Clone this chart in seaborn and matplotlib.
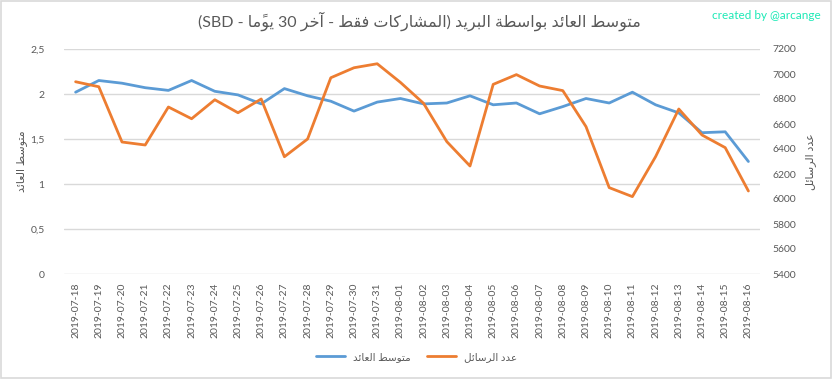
import numpy as np
import pandas as pd
import seaborn as sns
import matplotlib.pyplot as plt
from matplotlib.patches import Rectangle

sns.set_style('white')
plt.rcParams['font.family'] = ['Lato', 'DejaVu Sans']

# data
dates = ['2019-07-18', '2019-07-19', '2019-07-20', '2019-07-21', '2019-07-22',
         '2019-07-23', '2019-07-24', '2019-07-25', '2019-07-26', '2019-07-27',
         '2019-07-28', '2019-07-29', '2019-07-30', '2019-07-31', '2019-08-01',
         '2019-08-02', '2019-08-03', '2019-08-04', '2019-08-05', '2019-08-06',
         '2019-08-07', '2019-08-08', '2019-08-09', '2019-08-10', '2019-08-11',
         '2019-08-12', '2019-08-13', '2019-08-14', '2019-08-15', '2019-08-16']
avg_payout = [2.02, 2.15, 2.12, 2.07, 2.04, 2.15, 2.03, 1.99, 1.89, 2.06,
              1.98, 1.92, 1.81, 1.91, 1.95, 1.89, 1.90, 1.98, 1.88, 1.90,
              1.78, 1.86, 1.95, 1.90, 2.02, 1.88, 1.79, 1.57, 1.58, 1.25]
msg_count = [6938, 6898, 6456, 6432, 6736, 6642, 6794, 6690, 6800, 6338,
             6480, 6970, 7050, 7082, 6933, 6765, 6459, 6264, 6917, 6995,
             6904, 6867, 6579, 6091, 6019, 6339, 6720, 6512, 6411, 6064]
left_ticks = [0, 0.5, 1, 1.5, 2, 2.5]
left_labels = ['0', '0,5', '1', '1,5', '2', '2,5']
right_ticks = [5400, 5600, 5800, 6000, 6200, 6400, 6600, 6800, 7000, 7200]

title = 'متوسط العائد بواسطة البريد (المشاركات فقط - آخر 30 يومًا - SBD)'
left_name = 'متوسط العائد'
right_name = 'عدد الرسائل'

# matplotlib has no arabic shaping, so pick the presentation forms by hand
# (isolated, final, initial, medial); None = letter does not join to the next one
FORMS = {
    'ا': ('\uFE8D', '\uFE8E', None, None),
    'آ': ('\uFE81', '\uFE82', None, None),
    'ب': ('\uFE8F', '\uFE90', '\uFE91', '\uFE92'),
    'ة': ('\uFE93', '\uFE94', None, None),
    'ت': ('\uFE95', '\uFE96', '\uFE97', '\uFE98'),
    'خ': ('\uFEA5', '\uFEA6', '\uFEA7', '\uFEA8'),
    'د': ('\uFEA9', '\uFEAA', None, None),
    'ر': ('\uFEAD', '\uFEAE', None, None),
    'س': ('\uFEB1', '\uFEB2', '\uFEB3', '\uFEB4'),
    'ش': ('\uFEB5', '\uFEB6', '\uFEB7', '\uFEB8'),
    'ط': ('\uFEC1', '\uFEC2', '\uFEC3', '\uFEC4'),
    'ع': ('\uFEC9', '\uFECA', '\uFECB', '\uFECC'),
    'ف': ('\uFED1', '\uFED2', '\uFED3', '\uFED4'),
    'ق': ('\uFED5', '\uFED6', '\uFED7', '\uFED8'),
    'ك': ('\uFED9', '\uFEDA', '\uFEDB', '\uFEDC'),
    'ل': ('\uFEDD', '\uFEDE', '\uFEDF', '\uFEE0'),
    'م': ('\uFEE1', '\uFEE2', '\uFEE3', '\uFEE4'),
    'و': ('\uFEED', '\uFEEE', None, None),
    'ي': ('\uFEF1', '\uFEF2', '\uFEF3', '\uFEF4'),
    'ئ': ('\uFE89', '\uFE8A', '\uFE8B', '\uFE8C'),
}
MARKS = '\u064B'


def shape(word):
    letters = []
    for ch in word:
        if ch in MARKS and letters:
            letters[-1][1] += ch
        else:
            letters.append([ch, ''])
    out = []
    for i, (ch, mk) in enumerate(letters):
        f = FORMS[ch]
        prev_joins = i > 0 and FORMS[letters[i - 1][0]][2] is not None
        next_joins = f[2] is not None and i + 1 < len(letters)
        if prev_joins and next_joins:
            g = f[3]
        elif prev_joins:
            g = f[1]
        elif next_joins:
            g = f[2]
        else:
            g = f[0]
        out.append(g + mk)
    return ''.join(reversed(out))


def rtl(text):
    # crude bidi: reverse the runs, keep latin/digit runs as they are
    runs = []
    for ch in text:
        if ch in FORMS or ch in MARKS:
            kind = 'ar'
        elif ch.isascii() and ch.isalnum():
            kind = 'ltr'
        else:
            kind = 'n'
        if runs and runs[-1][0] == kind and kind != 'n':
            runs[-1][1] += ch
        else:
            runs.append([kind, ch])
    mirror = {'(': ')', ')': '('}
    parts = []
    for kind, s in reversed(runs):
        if kind == 'ar':
            parts.append(shape(s))
        elif kind == 'ltr':
            parts.append(s)
        else:
            parts.append(mirror.get(s, s))
    return ''.join(parts)


df = pd.DataFrame({'date': dates, 'avg': avg_payout, 'count': msg_count})

blue = '#5B9BD5'
orange = '#ED7D31'
gray = '#595959'

fig = plt.figure(figsize=(8.33, 3.79), dpi=100)
ax = fig.add_axes([64 / 833, 105 / 379, 696 / 833, 225 / 379])
ax2 = ax.twinx()

sns.lineplot(data=df, x='date', y='avg', ax=ax, color=blue, lw=2, sort=False)
sns.lineplot(data=df, x='date', y='count', ax=ax2, color=orange, lw=2, sort=False)

ax.set_xlim(-0.5, len(dates) - 0.5)
ax.set_ylim(0, 2.5)
ax2.set_ylim(5400, 7200)
ax.set_yticks(left_ticks, left_labels)
ax2.set_yticks(right_ticks)
ax.grid(axis='y', color='#D9D9D9', lw=1)
ax.set_axisbelow(True)
for a in (ax, ax2):
    for s in a.spines.values():
        s.set_visible(False)
    a.tick_params(length=0, colors=gray, labelsize=7.5)
ax.tick_params(axis='y', pad=14)
ax2.tick_params(axis='y', pad=9)
ax.tick_params(axis='x', rotation=90, pad=6)

ax.set_xlabel('')
ax2.set_xlabel('')
ax.set_ylabel(rtl(left_name), color=gray, fontsize=8, labelpad=2)
ax2.set_ylabel(rtl(right_name), color=gray, fontsize=8, rotation=90, labelpad=6)

fig.text(0.504, 0.945, rtl(title), ha='center', va='center', color=gray, fontsize=11.5)
fig.text(0.985, 0.96, 'created by @arcange', ha='right', va='center',
         color='#1DE9B6', fontsize=8.5)

handles = [ax.get_lines()[0], ax2.get_lines()[0]]
fig.legend(handles, [rtl(left_name), rtl(right_name)], loc='center',
           bbox_to_anchor=(0.5, 0.058), ncol=2, frameon=False, fontsize=7.5,
           handlelength=2.8, columnspacing=1.5, labelcolor=gray)

fig.patches.append(Rectangle((0.001, 0.002), 0.997, 0.995, transform=fig.transFigure,
                             fill=False, edgecolor='#D9D9D9', lw=1.2))

fig.savefig('out.png', dpi=100)
